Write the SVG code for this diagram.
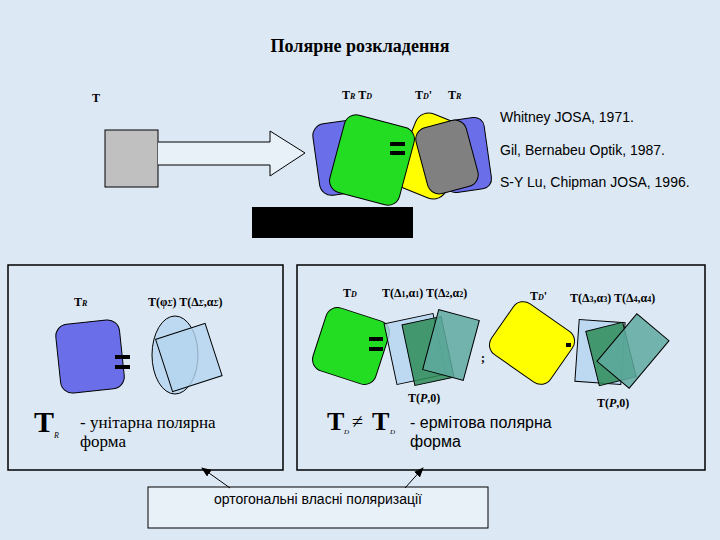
<svg xmlns="http://www.w3.org/2000/svg" width="720" height="540" viewBox="0 0 720 540">
<defs>
<style>
.s{font-family:"Liberation Serif",serif;font-size:12px;font-weight:bold}
.a{font-family:"Liberation Sans",sans-serif}
.r{font-family:"Liberation Serif",serif}
.sh{stroke:#000;stroke-width:1}
.lb{fill:#b4d4f0;fill-opacity:0.8;stroke:#000;stroke-width:1}
.dg{fill:#2e8b57;fill-opacity:0.85;stroke:#000;stroke-width:1}
.tg{fill:#5faaa0;fill-opacity:0.85;stroke:#000;stroke-width:1}
</style>
<marker id="ar" markerWidth="10" markerHeight="8" refX="9" refY="4" orient="auto" markerUnits="userSpaceOnUse"><path d="M0,0 L10,4 L0,8 z" fill="#000"/></marker>
</defs>
<rect width="720" height="540" fill="#dce8f4"/>
<text x="360" y="52" text-anchor="middle" class="r" font-size="18" font-weight="bold">Полярне розкладення</text>

<g id="top">
<text x="92" y="102" class="s">T</text>
<rect x="105" y="130" width="53" height="57" fill="#c0c0c0" class="sh"/>
<path d="M158,142 H270 V131 L305,153 L270,176 V165 H158" fill="#e8f0f8" class="sh"/>
<text x="342" y="99" class="s">T<tspan font-size="8" font-style="italic">R</tspan>  T<tspan font-size="8" font-style="italic">D</tspan></text>
<text x="415" y="99" class="s">T<tspan font-size="8" font-style="italic">D</tspan>'</text>
<text x="448" y="99" class="s">T<tspan font-size="8" font-style="italic">R</tspan></text>
<rect x="316" y="121" width="60" height="72" rx="12" fill="#6a6ee8" transform="rotate(-8 346 157)" class="sh"/>
<rect x="442" y="119" width="46" height="72" rx="10" fill="#6a6ee8" transform="rotate(-8 465 155)" class="sh"/>
<rect x="404" y="116" width="54" height="80" rx="14" fill="#ffff00" transform="rotate(22 431 156)" class="sh"/>
<rect x="421" y="123" width="52" height="68" rx="12" fill="#808080" transform="rotate(-15 447 157)" class="sh"/>
<rect x="336" y="120" width="72" height="80" rx="12" fill="#22dd22" transform="rotate(15 372 160)" class="sh"/>
<rect x="390" y="142" width="15" height="4" fill="#000"/><rect x="390" y="151" width="15" height="4" fill="#000"/>
<rect x="252" y="207" width="161" height="31" fill="#000"/>
<text x="500" y="122" class="a" font-size="14">Whitney  JOSA, 1971.</text>
<text x="500" y="155" class="a" font-size="14">Gil, Bernabeu Optik, 1987.</text>
<text x="500" y="187" class="a" font-size="14">S-Y Lu, Chipman JOSA, 1996.</text>
</g>

<g id="left">
<rect x="8" y="265" width="275" height="205" fill="none" stroke="#000" stroke-width="1.5"/>
<text x="74" y="306" class="s">T<tspan font-size="8" font-style="italic">R</tspan></text>
<text x="148" y="306" class="s">T(φ<tspan font-size="8" font-style="italic">Σ</tspan>)  T(Δ<tspan font-size="8" font-style="italic">Σ</tspan>,α<tspan font-size="8" font-style="italic">Σ</tspan>)</text>
<rect x="58" y="322" width="64" height="69" rx="12" fill="#6a6ee8" transform="rotate(-6 90 356)" class="sh"/>
<rect x="115" y="355" width="15" height="4" fill="#000"/><rect x="115" y="365" width="15" height="4" fill="#000"/>
<ellipse cx="175" cy="355" rx="23" ry="39" fill="#b4d4f0" fill-opacity="0.8" class="sh"/>
<rect x="163" y="330" width="52" height="55" class="lb" transform="rotate(-18 189 358)"/>
<text x="34" y="432" class="r" font-size="30" font-weight="bold">T</text>
<text x="54" y="438" class="r" font-size="8" font-style="italic">R</text>
<text x="80" y="428" class="r" font-size="17">- унітарна полярна</text>
<text x="80" y="447" class="r" font-size="17">форма</text>
</g>

<g id="right">
<rect x="297" y="265" width="408" height="205" fill="none" stroke="#000" stroke-width="1.5"/>
<text x="343" y="297" class="s">T<tspan font-size="8" font-style="italic">D</tspan></text>
<text x="382" y="297" class="s">T(Δ<tspan font-size="8">1</tspan>,α<tspan font-size="8">1</tspan>)  T(Δ<tspan font-size="8">2</tspan>,α<tspan font-size="8">2</tspan>)</text>
<text x="530" y="300" class="s">T<tspan font-size="8" font-style="italic">D</tspan>'</text>
<text x="570" y="302" class="s">T(Δ<tspan font-size="8">3</tspan>,α<tspan font-size="8">3</tspan>)  T(Δ<tspan font-size="8">4</tspan>,α<tspan font-size="8">4</tspan>)</text>
<rect x="318" y="313" width="66" height="66" rx="12" fill="#22dd22" transform="rotate(18 351 346)" class="sh"/>
<rect x="369" y="337" width="14" height="4" fill="#000"/><rect x="369" y="347" width="14" height="4" fill="#000"/>
<rect x="390" y="318" width="50" height="62" class="lb" transform="rotate(-12 415 349)"/>
<rect x="408" y="320" width="40" height="62" class="dg" transform="rotate(-12 428 351)"/>
<rect x="430" y="314" width="42" height="62" class="tg" transform="rotate(15 451 345)"/>
<text x="481" y="362" class="s">;</text>
<rect x="496" y="312" width="72" height="62" rx="12" fill="#ffff00" transform="rotate(35 532 343)" class="sh"/>
<rect x="566" y="343" width="5" height="4" fill="#000"/>
<rect x="577" y="321" width="46" height="62" class="lb" transform="rotate(4 600 352)"/>
<rect x="592" y="326" width="38" height="56" class="dg" transform="rotate(-14 611 354)"/>
<rect x="612" y="320" width="42" height="62" class="tg" transform="rotate(40 633 351)"/>
<text x="408" y="402" class="s">T(<tspan font-style="italic">P</tspan>,0)</text>
<text x="597" y="407" class="s">T(<tspan font-style="italic">P</tspan>,0)</text>
<text x="327" y="430" class="r" font-size="26" font-weight="bold">T</text>
<text x="344" y="434" class="r" font-size="7" font-style="italic">D</text>
<text x="352" y="428" class="r" font-size="20">≠</text>
<text x="372" y="430" class="r" font-size="26" font-weight="bold">T</text>
<text x="388" y="420" class="r" font-size="8">'</text>
<text x="390" y="434" class="r" font-size="7" font-style="italic">D</text>
<text x="410" y="428" class="a" font-size="16">- ермітова полярна</text>
<text x="410" y="447" class="a" font-size="16">форма</text>
</g>

<g id="note">
<rect x="148" y="487" width="340" height="41" fill="#e8f0f8" stroke="#000" stroke-width="1"/>
<text x="318" y="504" text-anchor="middle" class="a" font-size="14">ортогональні власні поляризації</text>
</g>
<g id="connectors">
<line x1="230" y1="488" x2="202" y2="468" stroke="#000" marker-end="url(#ar)"/>
<line x1="405" y1="488" x2="423" y2="468" stroke="#000" marker-end="url(#ar)"/>
</g>
</svg>
